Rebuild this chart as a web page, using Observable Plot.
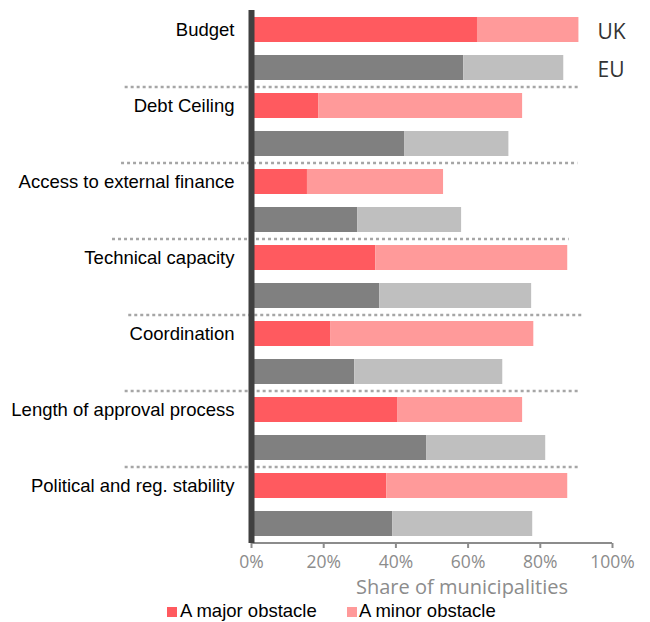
<!DOCTYPE html>
<html>
<head>
<meta charset="utf-8">
<script src="https://cdn.jsdelivr.net/npm/d3@7"></script>
<script src="https://cdn.jsdelivr.net/npm/@observablehq/plot@0.6"></script>
<style>
  html, body { margin: 0; padding: 0; background: #fff; }
  #chart { width: 650px; }
  .legend { position: relative; width: 650px; height: 24px; font-family: "Liberation Sans", Arial, sans-serif; font-size: 18.5px; color: #000; }
  .legend .sw { position: absolute; width: 10px; height: 10px; top: 9px; }
  .legend .lb { position: absolute; top: 2px; white-space: nowrap; line-height: 22px; }
</style>
</head>
<body>
<div id="chart"></div>
<div class="legend">
  <span class="sw" style="left:167px;background:#FF5A5F"></span><span class="lb" style="left:180px">A major obstacle</span>
  <span class="sw" style="left:347px;background:#FF9A9A"></span><span class="lb" style="left:359px">A minor obstacle</span>
</div>
<script>
const categories = ["Budget", "Debt Ceiling", "Access to external finance", "Technical capacity", "Coordination", "Length of approval process", "Political and reg. stability"];
const regions = ["UK", "EU"];
const ukMajor = [62.6, 18.6, 15.5, 34.4, 21.9, 40.6, 37.5];
const ukMinor = [28.1, 56.5, 37.7, 53.2, 56.3, 34.5, 50.1];
const euMajor = [58.8, 42.4, 29.4, 35.5, 28.6, 48.5, 39.1];
const euMinor = [27.7, 28.9, 28.8, 42.1, 41.0, 33.0, 38.8];
const xTicks = [0, 20, 40, 60, 80, 100];
const sepLeft = [-35, -36, -38.5, -34, -35, -35];
const sepRight = [91, 90.4, 88, 92, 91, 91];

const colors = {UK: {major: "#FF5A5F", minor: "#FF9A9A"}, EU: {major: "#808080", minor: "#BFBFBF"}};
const key = (c, r) => c + "|" + r;
const yDomain = categories.flatMap(c => regions.map(r => key(c, r)));

const rows = [];
categories.forEach((c, i) => {
  rows.push({y: key(c, "UK"), type: "major", value: ukMajor[i], fill: colors.UK.major});
  rows.push({y: key(c, "UK"), type: "minor", value: ukMinor[i], fill: colors.UK.minor});
  rows.push({y: key(c, "EU"), type: "major", value: euMajor[i], fill: colors.EU.major});
  rows.push({y: key(c, "EU"), type: "minor", value: euMinor[i], fill: colors.EU.minor});
});
const seps = categories.slice(0, -1).map((c, i) => ({y: key(c, "EU"), x1: sepLeft[i], x2: sepRight[i]}));

const plot = Plot.plot({
  width: 650,
  height: 598,
  marginLeft: 251,
  marginRight: 38,
  marginTop: 10,
  marginBottom: 55,
  style: {fontFamily: "'Open Sans', sans-serif", background: "#fff"},
  x: {domain: [0, 100]},
  y: {domain: yDomain, paddingInner: 0.33, paddingOuter: 0.16, axis: null},
  marks: [
    Plot.barX(rows, Plot.stackX({x: "value", y: "y", fill: "fill", z: "type", order: null})),
    Plot.ruleY(seps, {y: "y", x1: "x1", x2: "x2", dy: 19, stroke: "#A6A6A6", strokeWidth: 2.5, strokeDasharray: "3,3"}),
    Plot.ruleY([key(categories[categories.length - 1], "EU")], {x1: 0, x2: 100, dy: 19, stroke: "#8C8C8C", strokeWidth: 2}),
    Plot.axisX({ticks: xTicks, tickFormat: d => d + "%", tickSize: 5, tickPadding: 7, fontSize: 17.5, color: "#8C8C8C", stroke: "#8C8C8C", strokeWidth: 2, label: null}),
    Plot.ruleX([0], {stroke: "#404040", strokeWidth: 6}),
    Plot.text(categories, {y: d => key(d, "UK"), x: 0, dx: -17, textAnchor: "end", fontSize: 18.5, fill: "#000", fontFamily: "'Liberation Sans', Arial, sans-serif"}),
    Plot.text(regions, {y: d => key(categories[0], d), frameAnchor: "right", dx: -15, dy: 2, textAnchor: "start", fontSize: 21, fill: "#333"}),
    Plot.text(["Share of municipalities"], {frameAnchor: "bottom", dx: 30, dy: 50, fontSize: 20, fill: "#8C8C8C"})
  ]
});
document.getElementById("chart").appendChild(plot);
</script>
</body>
</html>
